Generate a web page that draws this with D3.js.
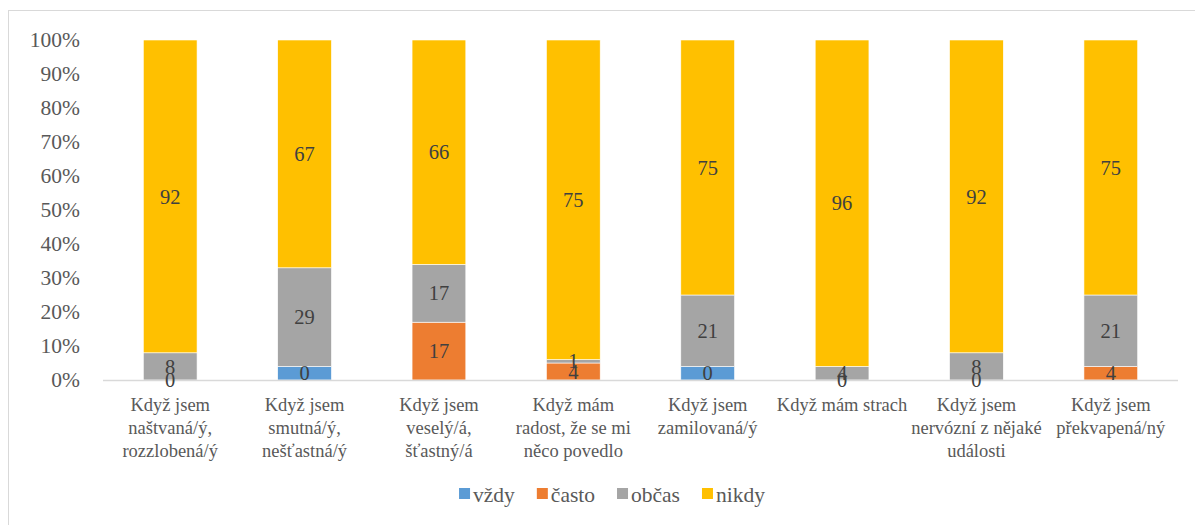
<!DOCTYPE html>
<html>
<head>
<meta charset="utf-8">
<script src="https://cdn.jsdelivr.net/npm/d3@7"></script>
<style>
    body { margin: 0; background: #fff; }
    svg text { font-family: "Liberation Serif", "Tinos", "Times New Roman", "DejaVu Serif", serif; }
</style>
</head>
<body>
<svg id="chart" width="1195" height="525"></svg>
<script>
(function() {

    var serif = '"Liberation Serif", "Tinos", "Times New Roman", "DejaVu Serif", serif';

    // categories (label lines)
    var categories = [
        ['Když jsem', 'naštvaná/ý,', 'rozzlobená/ý'],
        ['Když jsem', 'smutná/ý,', 'nešťastná/ý'],
        ['Když jsem', 'veselý/á,', 'šťastný/á'],
        ['Když mám', 'radost, že se mi', 'něco povedlo'],
        ['Když jsem', 'zamilovaná/ý'],
        ['Když mám strach'],
        ['Když jsem', 'nervózní z nějaké', 'události'],
        ['Když jsem', 'překvapená/ný']
    ];

    var seriesNames = ['vždy', 'často', 'občas', 'nikdy'];
    var seriesColors = ['#5B9BD5', '#ED7D31', '#A5A5A5', '#FFC000'];

    // segment heights (percent) as drawn
    var vzdy = [0, 4, 0, 0, 4, 0, 0, 0];
    var casto = [0, 0, 17, 5, 0, 0, 0, 4];
    var obcas = [8, 29, 17, 1, 21, 4, 8, 21];
    var nikdy = [92, 67, 66, 94, 75, 96, 92, 75];

    // data labels as printed (null = not shown)
    var vzdyLabels = [0, 0, null, null, 0, 0, 0, null];
    var castoLabels = [null, null, 17, 4, null, null, null, 4];
    var obcasLabels = [8, 29, 17, 1, 21, 4, 8, 21];
    var nikdyLabels = [92, 67, 66, 75, 75, 96, 92, 75];

    var yTicks = [0, 0.1, 0.2, 0.3, 0.4, 0.5, 0.6, 0.7, 0.8, 0.9, 1];

    var values = [vzdy, casto, obcas, nikdy];
    var labels = [vzdyLabels, castoLabels, obcasLabels, nikdyLabels];

    var rows = categories.map(function(c, i) {
        var r = { i: i };
        seriesNames.forEach(function(s, k) { r[s] = values[k][i]; });
        return r;
    });

    var stacked = d3.stack().keys(seriesNames)
        .offset(d3.stackOffsetExpand)(rows);

    var svg = d3.select('#chart');
    var left = 103, right = 1178, top = 40, bottom = 380;

    // chart frame
    svg.append('rect')
        .attr('x', 8.5).attr('y', 10.5)
        .attr('width', 1200).attr('height', 600)
        .attr('fill', 'none').attr('stroke', '#d9d9d9');

    var x = d3.scaleBand()
        .domain(d3.range(categories.length))
        .range([left, right])
        .paddingInner(0.6)
        .paddingOuter(0.3);

    var y = d3.scaleLinear().domain([0, 1]).range([bottom, top]);

    // y axis
    var yAxis = svg.append('g')
        .attr('transform', 'translate(' + left + ',0)')
        .call(d3.axisLeft(y).tickValues(yTicks).tickFormat(d3.format('.0%')).tickSize(0).tickPadding(23));
    yAxis.attr('font-family', serif);
    yAxis.select('.domain').remove();
    yAxis.selectAll('text')
        .attr('fill', '#595959')
        .style('font-size', '21.5px')
        .style('font-family', serif);

    // bars
    var groups = svg.selectAll('g.series')
        .data(stacked)
        .enter().append('g')
        .attr('class', 'series')
        .attr('fill', function(d, k) { return seriesColors[k]; });

    groups.selectAll('rect')
        .data(function(d) { return d; })
        .enter().append('rect')
        .attr('x', function(d) { return x(d.data.i); })
        .attr('width', x.bandwidth())
        .attr('y', function(d) { return y(d[1]); })
        .attr('height', function(d) { return y(d[0]) - y(d[1]); })
        .attr('stroke', '#fff')
        .attr('stroke-width', 0.6);

    // x axis line
    svg.append('line')
        .attr('x1', left).attr('x2', right)
        .attr('y1', bottom + 0.5).attr('y2', bottom + 0.5)
        .attr('stroke', '#d9d9d9').attr('stroke-width', 1.5);

    // data labels
    stacked.forEach(function(layer, k) {
        layer.forEach(function(d, i) {
            var lab = labels[k][i];
            if (lab === null) return;
            svg.append('text')
                .attr('x', x(i) + x.bandwidth() / 2)
                .attr('y', y((d[0] + d[1]) / 2))
                .attr('dy', '0.35em')
                .attr('text-anchor', 'middle')
                .attr('fill', '#404040')
                .style('font-family', serif)
                .style('font-size', '20.5px')
                .text(lab);
        });
    });

    // category labels
    var cat = svg.selectAll('text.cat')
        .data(categories)
        .enter().append('text')
        .attr('class', 'cat')
        .attr('text-anchor', 'middle')
        .attr('fill', '#595959')
        .style('font-family', serif)
        .style('font-size', '18.5px')
        .attr('transform', function(d, i) {
            return 'translate(' + (x(i) + x.bandwidth() / 2) + ',' + 411 + ')';
        });
    cat.selectAll('tspan')
        .data(function(d) { return d; })
        .enter().append('tspan')
        .attr('x', 0)
        .attr('y', function(d, j) { return j * 23; })
        .text(function(d) { return d; });

    // legend
    var legend = svg.append('g');
    var lx = 0;
    seriesNames.forEach(function(s, k) {
        legend.append('rect')
            .attr('x', lx).attr('y', -6)
            .attr('width', 11).attr('height', 11)
            .attr('fill', seriesColors[k]);
        var t = legend.append('text')
            .attr('x', lx + 14).attr('y', 0)
            .attr('dy', '0.35em')
            .attr('fill', '#595959')
            .style('font-family', serif)
            .style('font-size', '21.5px')
            .text(s);
        lx += 14 + t.node().getComputedTextLength() + 22;
    });
    lx -= 22;
    legend.attr('transform', 'translate(' + (612 - lx / 2) + ',' + 494 + ')');

})();
</script>
</body>
</html>
